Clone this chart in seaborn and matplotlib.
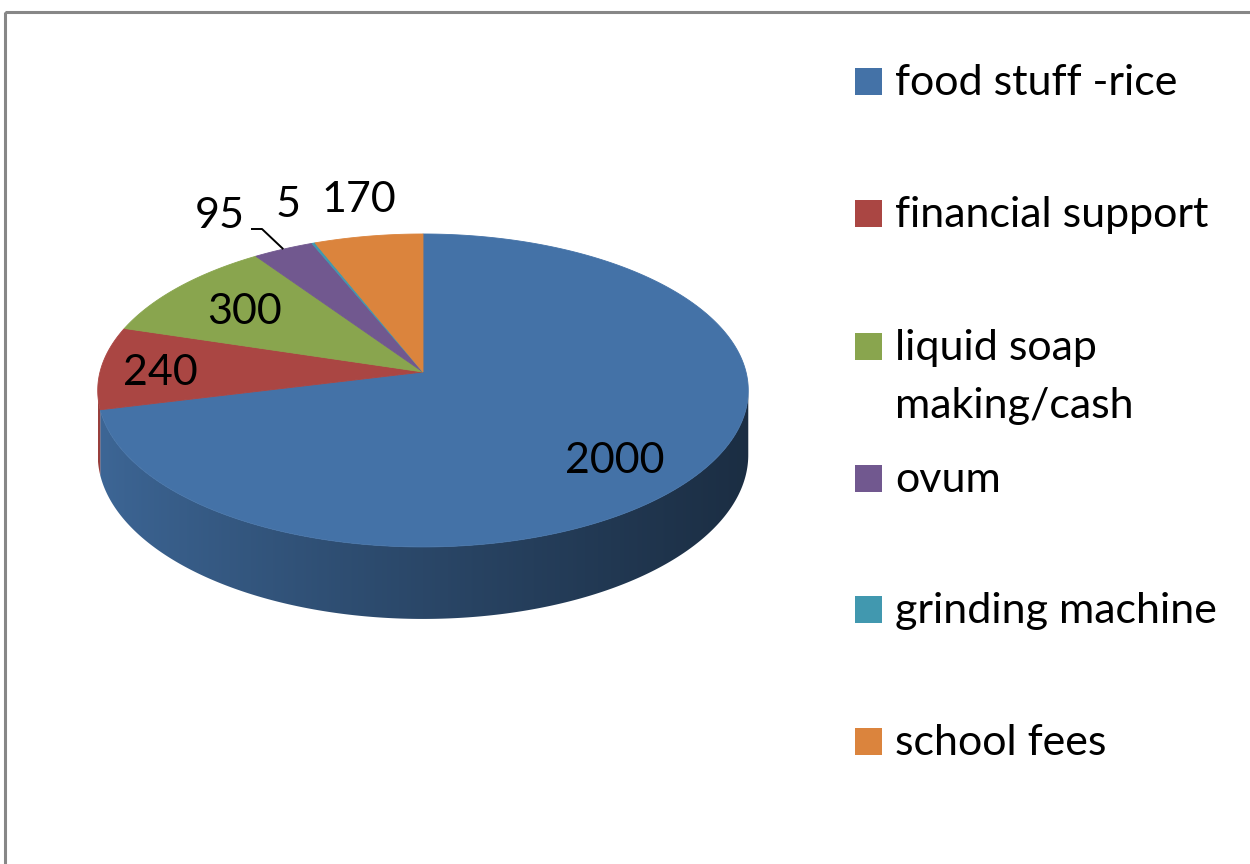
import numpy as np
import matplotlib
matplotlib.use("Agg")
import matplotlib.pyplot as plt
from matplotlib.patches import Polygon, Rectangle
import seaborn as sns

# ---------------- data ----------------
categories = ["food stuff -rice", "financial support", "liquid soap\nmaking/cash",
              "ovum", "grinding machine", "school fees"]
values = [2000, 240, 300, 95, 5, 170]
value_labels = ["2000", "240", "300", "95", "5", "170"]
colors_hex = ["#4472A7", "#AA4643", "#89A54E", "#71588F", "#4198AF", "#DB843D"]

# ---------------- style ----------------
sns.set_theme(style="white")
plt.rcParams["font.family"] = ["Lato", "DejaVu Sans"]
palette = sns.color_palette(colors_hex)

W, H = 1250, 864
fig = plt.figure(figsize=(W / 100, H / 100), dpi=100)
ax = fig.add_axes([0, 0, 1, 1])
ax.set_xlim(0, W)
ax.set_ylim(H, 0)
ax.axis("off")

# ---------------- 3D pie projection (layout) ----------------
CX, CY = 423.0, 372.0     # apex of the pie on screen
R, A = 323.0, 154.3       # horizontal radius, vertical half-extent factor
K = 0.118                 # perspective strength
D = 63.5                  # thickness of the pie


def proj(theta_deg, r=1.0, depth=0.0):
    th = np.deg2rad(theta_deg)
    u = r * np.sin(th)
    v = r * np.cos(th)
    w = 1 + K * v
    return CX + R * u / w, CY - A * v / w + depth / w


total = float(sum(values))
angles = np.array(values) / total * 360.0
ends = np.cumsum(angles)
starts = ends - angles

# ---- side wall (visible front part), shaded by horizontal position ----
th_right = np.rad2deg(np.arccos(-K))          # ~96.8
th_left = 360.0 - th_right                    # ~263.2
xl, _ = proj(th_left)
xr, _ = proj(th_right)
y_top = CY - 5
y_bot = CY + A / (1 - K) + D / (1 - K) + 5

for i, (s, e) in enumerate(zip(starts, ends)):
    a0, a1 = max(s, th_right), min(e, th_left)
    if a1 <= a0:
        continue
    arc = np.linspace(a0, a1, max(4, int((a1 - a0) * 4)))
    top = [proj(a) for a in arc]
    bot = [proj(a, depth=D) for a in arc[::-1]]
    poly = Polygon(top + bot, closed=True, facecolor="none", edgecolor="none")
    ax.add_patch(poly)
    # horizontal gradient image, clipped to this slice's side wall
    ncol = 400
    xs = np.linspace(xl, xr, ncol)
    t = np.clip((xs - xl) / (xr - xl), 0, 1)
    f = 0.9 - 0.5 * t ** 0.85
    img = np.clip(np.array(palette[i])[None, None, :] * f[None, :, None], 0, 1)
    im = ax.imshow(img, extent=(xl, xr, y_bot, y_top), origin="upper",
                   aspect="auto", interpolation="bilinear", zorder=1)
    im.set_clip_path(poly)

ax.set_xlim(0, W)
ax.set_ylim(H, 0)

# ---- top faces ----
for i, (s, e) in enumerate(zip(starts, ends)):
    n = max(3, int((e - s) * 3))
    arc = np.linspace(s, e, n)
    pts = [(CX, CY)] + [proj(a) for a in arc]
    ax.add_patch(Polygon(pts, closed=True, facecolor=palette[i],
                         edgecolor=palette[i], lw=0.6, zorder=2))

# ---------------- data labels ----------------
label_font = 31
label_xy = [(615, 473), (160, 385), (245, 324), (220, 228), (288, 217), (359, 212)]
for txt, (lx, ly) in zip(value_labels, label_xy):
    ax.text(lx, ly, txt, ha="center", va="baseline", fontsize=label_font,
            color="black", zorder=5)

# leader line for the "95" label
mid_ovum = 0.5 * (starts[3] + ends[3])
px, py = proj(mid_ovum)
ax.plot([251, 262, px], [229, 229, py], color="black", lw=1.4, zorder=5,
        solid_capstyle="butt")

# ---------------- legend ----------------
leg_baselines = [95, 227, 360, 492, 623, 755]
line_step = 58
for i, (lab, yb) in enumerate(zip(categories, leg_baselines)):
    ax.add_patch(Rectangle((855, yb - 27), 27, 27, facecolor=palette[i],
                           edgecolor="none", zorder=5))
    for j, line in enumerate(lab.split("\n")):
        ax.text(895, yb + j * line_step, line, ha="left", va="baseline",
                fontsize=label_font, color="black", zorder=5)

# ---------------- chart border ----------------
ax.add_patch(Rectangle((4.5, 11.5), W + 50, H + 50, facecolor="none",
                       edgecolor="#878787", lw=2.2, zorder=6))

fig.savefig("out.png", dpi=100)
